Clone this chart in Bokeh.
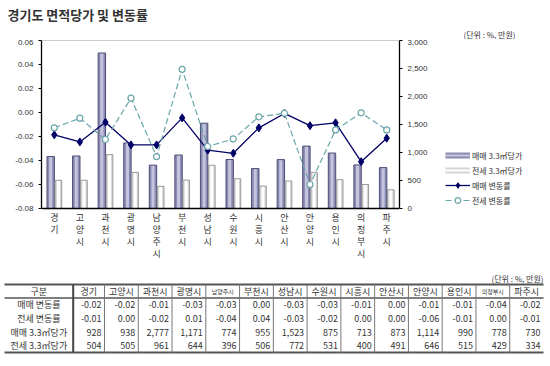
from bokeh.plotting import figure
from bokeh.models import (FactorRange, Range1d, LinearAxis, FixedTicker, NumeralTickFormatter,
                          Legend, LegendItem, Span, ColumnDataSource)
from bokeh.transform import dodge
from bokeh.layouts import row
from bokeh.embed import file_html
from bokeh.resources import INLINE
from bokeh.core.properties import value

# ---------------- data ----------------
TITLE = "경기도 면적당가 및 변동률"
UNIT = "(단위 : %, 만원)"
regions = ["경기", "고양시", "과천시", "광명시", "남양주시", "부천시", "성남시",
           "수원시", "시흥시", "안산시", "안양시", "용인시", "의정부시", "파주시"]
sale_rate = [-0.0186, -0.0245, -0.0081, -0.027, -0.027, -0.0045, -0.0314,
             -0.034, -0.0128, -0.0008, -0.011, -0.0086, -0.041, -0.0214]
jeonse_rate = [-0.0128, -0.0047, -0.0225, 0.0119, -0.0367, 0.036, -0.0283,
               -0.022, -0.0036, -0.0006, -0.060, -0.0145, -0.0003, -0.0145]
sale_price = [928, 938, 2777, 1171, 774, 955, 1523, 875, 713, 873, 1114, 990, 778, 730]
jeonse_price = [504, 505, 961, 644, 396, 506, 772, 531, 400, 491, 646, 515, 429, 334]
series_names = ["매매 3.3㎡당가", "전세 3.3㎡당가", "매매 변동률", "전세 변동률"]
table_head = "구분"
rate_ticks = [-0.08, -0.06, -0.04, -0.02, 0.0, 0.02, 0.04, 0.06]
price_ticks = [0, 500, 1000, 1500, 2000, 2500, 3000]

KFONT = "Noto Sans CJK KR"
TXT = "#333333"
SALE_BAR = "#8a8ab2"
SALE_BAR_HI = "#c4c4de"
SALE_EDGE = "#4e4e78"
JEON_BAR = "#d6d6d6"
JEON_EDGE = "#9a9a9a"
SALE_LINE = "#000066"
JEON_LINE = "#6aa5aa"

# ---------------- layout (pixels) ----------------
W = 550
HH = 39                 # header strip (title + unit)
CH = 262 - HH           # chart strip height
TH = 366 - 262          # table strip height
CW = 440                # chart figure width (rest: legend)
F_LEFT, F_RIGHT = 41, 399
F_TOP, BASE = 40, 208   # in page pixels
extra_px = 262 - BASE   # room below the base line for the stacked category labels

r_lo, r_hi = rate_ticks[0], rate_ticks[-1]
p_lo, p_hi = price_ticks[0], price_ticks[-1]
r_per_px = (r_hi - r_lo) / (BASE - F_TOP)
p_per_px = (p_hi - p_lo) / (BASE - F_TOP)

# ---------------- header ----------------
h = figure(width=W, height=HH, title=None, x_range=Range1d(0, W), y_range=Range1d(HH, 0),
           output_backend="svg", toolbar_location=None, min_border=0,
           x_axis_type=None, y_axis_type=None)
h.xgrid.visible = False
h.ygrid.visible = False
h.outline_line_color = None
h.text(x=[7], y=[14], text=[TITLE], text_font=value(KFONT), text_font_size=value("13px"),
       text_font_style="bold", text_color="#333333", text_align="left", text_baseline="middle")
h.text(x=[463], y=[34], text=[UNIT], text_font=value(KFONT), text_font_size=value("8px"),
       text_color=TXT, text_align="left", text_baseline="middle")

# ---------------- chart ----------------
p = figure(width=CW, height=CH, title=None,
           x_range=FactorRange(*regions, range_padding=0),
           y_range=Range1d(r_lo - extra_px * r_per_px, r_hi),
           x_axis_location=None,
           output_backend="svg", toolbar_location=None,
           min_border_left=F_LEFT, min_border_right=CW - F_RIGHT,
           min_border_top=F_TOP - HH, min_border_bottom=0)
p.extra_y_ranges = {"price": Range1d(p_lo - extra_px * p_per_px, p_hi)}
p.xgrid.visible = False
p.ygrid.visible = False
p.outline_line_color = None

src = ColumnDataSource(dict(region=regions, sale_rate=sale_rate, jeonse_rate=jeonse_rate,
                            sale_price=sale_price, jeonse_price=jeonse_price))

xs_sale = dodge("region", -0.14, range=p.x_range)
xs_jeon = dodge("region", 0.16, range=p.x_range)
p.vbar(x=xs_sale, top="sale_price", bottom=p_lo, width=0.29, source=src, y_range_name="price",
       fill_color=SALE_BAR, line_color=None)
p.vbar(x=xs_sale, top="sale_price", bottom=p_lo, width=0.12, source=src, y_range_name="price",
       fill_color=SALE_BAR_HI, line_color=None)
p.vbar(x=xs_sale, top="sale_price", bottom=p_lo, width=0.29, source=src, y_range_name="price",
       fill_color=None, line_color=SALE_EDGE, line_width=1)
p.vbar(x=xs_jeon, top="jeonse_price", bottom=p_lo, width=0.26, source=src, y_range_name="price",
       fill_color=JEON_BAR, line_color=None)
p.vbar(x=xs_jeon, top="jeonse_price", bottom=p_lo, width=0.12, source=src, y_range_name="price",
       fill_color="white", line_color=None)
p.vbar(x=xs_jeon, top="jeonse_price", bottom=p_lo, width=0.26, source=src, y_range_name="price",
       fill_color=None, line_color=JEON_EDGE, line_width=1)

p.add_layout(Span(location=r_lo, dimension="width", line_color="black", line_width=1.3))
p.add_layout(Span(location=r_hi, dimension="width", line_color="#999999", line_width=1))

p.line("region", "sale_rate", source=src, line_color=SALE_LINE, line_width=1.3)
p.scatter("region", "sale_rate", source=src, marker="diamond", size=8,
          fill_color=SALE_LINE, line_color=SALE_LINE)
p.line("region", "jeonse_rate", source=src, line_color=JEON_LINE, line_width=1.2,
       line_dash="6 3")
p.scatter("region", "jeonse_rate", source=src, marker="circle", size=6,
          fill_color="white", line_color=JEON_LINE, line_width=1.2)

# stacked (vertical) category labels under the base line
lx, ly, lt, ldy = [], [], [], []
for r in regions:
    for k, ch in enumerate(r):
        lx.append(r); ly.append(r_lo); lt.append(ch); ldy.append(9 + 12 * k)
p.text(x="x", y="y", text="t", y_offset="dy",
       source=ColumnDataSource(dict(x=lx, y=ly, t=lt, dy=ldy)),
       text_font=value(KFONT), text_font_size=value("9px"), text_color=TXT,
       text_align="center", text_baseline="middle")

ya = p.yaxis[0]
ya.ticker = FixedTicker(ticks=rate_ticks)
ya.formatter = NumeralTickFormatter(format="0.00")
ya.bounds = (r_lo, r_hi)
ra = LinearAxis(y_range_name="price", ticker=FixedTicker(ticks=price_ticks),
                formatter=NumeralTickFormatter(format="0,0"), bounds=(p_lo, p_hi))
p.add_layout(ra, "right")
for ax in (ya, ra):
    ax.major_tick_out = 3
    ax.major_tick_in = 0
    ax.minor_tick_line_color = None
    ax.major_label_standoff = 5
    ax.major_label_text_font = "Liberation Sans"
    ax.major_label_text_font_size = "8px"
    ax.major_label_text_color = TXT
    ax.axis_line_color = "black"
    ax.axis_line_width = 1.3

# ---------------- legend strip ----------------
# the same series are drawn here outside the visible range, only to feed the legend
lg = figure(width=W - CW, height=CH, title=None,
            x_range=FactorRange(*regions), y_range=Range1d(1e5, 2e5),
            output_backend="svg", toolbar_location=None, min_border_left=0, min_border_right=0,
            min_border_top=F_TOP - HH, min_border_bottom=0, x_axis_type=None, y_axis_type=None)
lg.xgrid.visible = False
lg.ygrid.visible = False
lg.outline_line_color = None
sw1a = lg.line("region", "sale_price", source=src, line_width=6, line_color=SALE_BAR)
sw1b = lg.line("region", "sale_price", source=src, line_width=2, line_color=SALE_BAR_HI)
sw2a = lg.line("region", "jeonse_price", source=src, line_width=6, line_color=JEON_BAR)
sw2b = lg.line("region", "jeonse_price", source=src, line_width=2, line_color="white")
k1 = lg.line("region", "sale_rate", source=src, line_color=SALE_LINE, line_width=1.3)
k2 = lg.scatter("region", "sale_rate", source=src, marker="diamond", size=8,
                fill_color=SALE_LINE, line_color=SALE_LINE)
k3 = lg.line("region", "jeonse_rate", source=src, line_color=JEON_LINE, line_width=1.2,
             line_dash="6 3")
k4 = lg.scatter("region", "jeonse_rate", source=src, marker="circle", size=6,
                fill_color="white", line_color=JEON_LINE, line_width=1.2)
legend = Legend(items=[LegendItem(label=series_names[0], renderers=[sw1a, sw1b]),
                       LegendItem(label=series_names[1], renderers=[sw2a, sw2b]),
                       LegendItem(label=series_names[2], renderers=[k1, k2]),
                       LegendItem(label=series_names[3], renderers=[k3, k4])],
                location=(445 - CW, 262 - 207), glyph_width=25, glyph_height=14,
                label_height=14, spacing=1, padding=0, margin=0, label_standoff=2,
                label_text_font=KFONT, label_text_font_size="8px", label_text_color=TXT,
                border_line_color=None, background_fill_alpha=0)
lg.add_layout(legend)

# ---------------- table ----------------
t = figure(width=W, height=TH, title=None, x_range=Range1d(0, W), y_range=Range1d(TH, 0),
           output_backend="svg", toolbar_location=None, min_border=0,
           x_axis_type=None, y_axis_type=None)
t.xgrid.visible = False
t.ygrid.visible = False
t.outline_line_color = None

OFF = 262
n = len(regions)
x0, c0, c1, x_end = 4.0, 72.7, 104.0, 543.0
cw = (x_end - c1) / (n - 1)
x_edges = [x0, c0, c1] + [c1 + cw * i for i in range(1, n)]
top, rh = 284.0 - OFF, 13.6
y_edges = [top + rh * i for i in range(6)]

def fmt_rate(v):
    s = f"{v:.2f}"
    return "0.00" if s == "-0.00" else s

rows = [(series_names[2], [fmt_rate(v) for v in sale_rate]),
        (series_names[3], [fmt_rate(v) for v in jeonse_rate]),
        (series_names[0], [f"{v:,}" for v in sale_price]),
        (series_names[1], [f"{v:,}" for v in jeonse_price])]

cx, cy, ct, cs = [], [], [], []
rx, ry, rt = [], [], []
cx.append((x_edges[0] + x_edges[1]) / 2); cy.append(top + rh / 2); ct.append(table_head); cs.append("9px")
for j, r in enumerate(regions):
    cx.append((x_edges[j + 1] + x_edges[j + 2]) / 2); cy.append(top + rh / 2); ct.append(r)
    cs.append("6px" if len(r) > 3 else "9px")
for i, (lab, vals) in enumerate(rows):
    yc = y_edges[i + 1] + rh / 2
    cx.append((x_edges[0] + x_edges[1]) / 2); cy.append(yc); ct.append(lab); cs.append("9px")
    for j, v in enumerate(vals):
        rx.append(x_edges[j + 2] - 3); ry.append(yc); rt.append(v)

t.text(x="x", y="y", text="t", source=ColumnDataSource(dict(x=cx, y=cy, t=ct, fs=cs)),
       text_font=value(KFONT), text_font_size="fs", text_color=TXT,
       text_align="center", text_baseline="middle")
t.text(x="x", y="y", text="t", source=ColumnDataSource(dict(x=rx, y=ry, t=rt)),
       text_font=value(KFONT), text_font_size=value("9px"), text_color=TXT,
       text_align="right", text_baseline="middle")
t.text(x=[x_end], y=[278 - OFF], text=[UNIT], text_font=value(KFONT), text_font_size=value("8px"),
       text_color=TXT, text_align="right", text_baseline="middle")

t.segment(x0=[x0] * 3, x1=[x_end] * 3, y0=[y_edges[0], y_edges[1], y_edges[-1]],
          y1=[y_edges[0], y_edges[1], y_edges[-1]], line_color="#555555", line_width=[2, 1.5, 2])
t.segment(x0=[x_edges[1]], x1=[x_edges[1]], y0=[y_edges[0]], y1=[y_edges[-1]],
          line_color="#444444", line_width=2)
inner = x_edges[2:-1]
t.segment(x0=inner, x1=inner, y0=[y_edges[0]] * len(inner), y1=[y_edges[-1]] * len(inner),
          line_color="#777777", line_width=1)

open("out.html", "w").write(file_html([h, row(p, lg, spacing=0), t], INLINE))
